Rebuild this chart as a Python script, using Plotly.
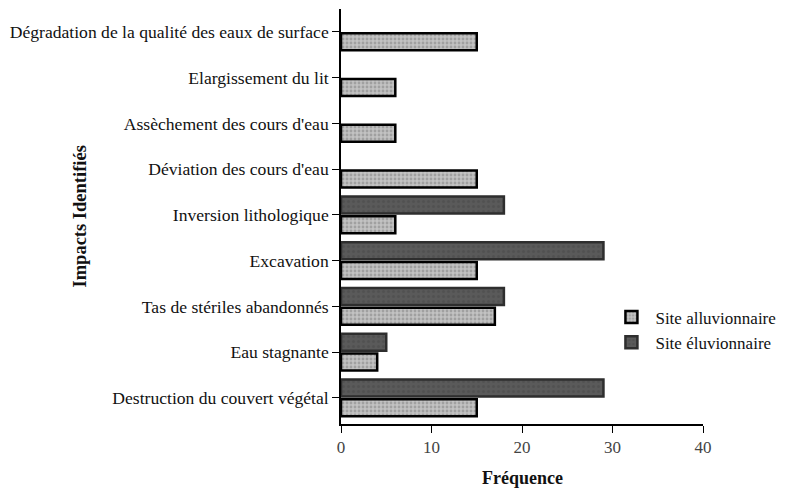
import plotly.graph_objects as go

categories = [
    "Dégradation de la qualité des eaux de surface",
    "Elargissement du lit",
    "Assèchement des cours d'eau",
    "Déviation des cours d'eau",
    "Inversion lithologique",
    "Excavation",
    "Tas de stériles abandonnés",
    "Eau stagnante",
    "Destruction du couvert végétal",
]
alluvionnaire = [15, 6, 6, 15, 6, 15, 17, 4, 15]
eluvionnaire = [None, None, None, None, 18, 29, 18, 5, 29]
x_ticks = [0, 10, 20, 30, 40]

FONT = "Liberation Serif, Times New Roman, serif"

fig = go.Figure()
fig.add_trace(go.Bar(
    y=categories, x=alluvionnaire, orientation="h", name="Site alluvionnaire",
    offset=0.03, width=0.37,
    marker=dict(color="#b8b8b8", line=dict(color="#000000", width=2.5),
                pattern=dict(shape=".", bgcolor="#c2c2c2", fgcolor="#7e7e7e",
                             size=4, solidity=0.4)),
))
fig.add_trace(go.Bar(
    y=categories, x=eluvionnaire, orientation="h", name="Site éluvionnaire",
    offset=-0.40, width=0.37,
    marker=dict(color="#555555", line=dict(color="#2e2e2e", width=2.5),
                pattern=dict(shape=".", bgcolor="#5a5a5a", fgcolor="#474747",
                             size=5, solidity=0.3)),
))

fig.update_layout(
    width=785, height=490,
    margin=dict(l=333, r=90, t=1, b=74),
    paper_bgcolor="white", plot_bgcolor="white",
    barmode="overlay",
    font=dict(family=FONT, size=17, color="#111"),
    showlegend=True,
    legend=dict(x=0.736, y=0.30, xanchor="left", yanchor="top",
                font=dict(family=FONT, size=17, color="#111"),
                bgcolor="rgba(0,0,0,0)", tracegroupgap=2, itemwidth=38),
    xaxis=dict(range=[0, 40], tickvals=x_ticks, ticks="outside", ticklen=7,
               tickcolor="black", showline=True, linecolor="black", linewidth=1.5,
               showgrid=False, zeroline=False,
               tickfont=dict(family=FONT, size=17, color="#444")),
    yaxis=dict(type="category", categoryorder="array", categoryarray=categories,
               range=[8.57, -0.5], ticks="outside", ticklen=7, tickcolor="black",
               showline=True, linecolor="black", linewidth=1.5, showgrid=False,
               zeroline=False, automargin=False,
               tickfont=dict(family=FONT, size=17.6, color="#111")),
    annotations=[
        dict(text="<b>Impacts Identifiés</b>", xref="paper", yref="paper",
             x=-0.721, y=0.5, xanchor="center", yanchor="middle", textangle=-90,
             showarrow=False, font=dict(family=FONT, size=18.5, color="#111")),
        dict(text="<b>Fréquence</b>", xref="paper", yref="paper",
             x=0.5, y=-0.13, xanchor="center", yanchor="middle",
             showarrow=False, font=dict(family=FONT, size=18, color="#111")),
    ],
)

fig.write_html("out.html")
